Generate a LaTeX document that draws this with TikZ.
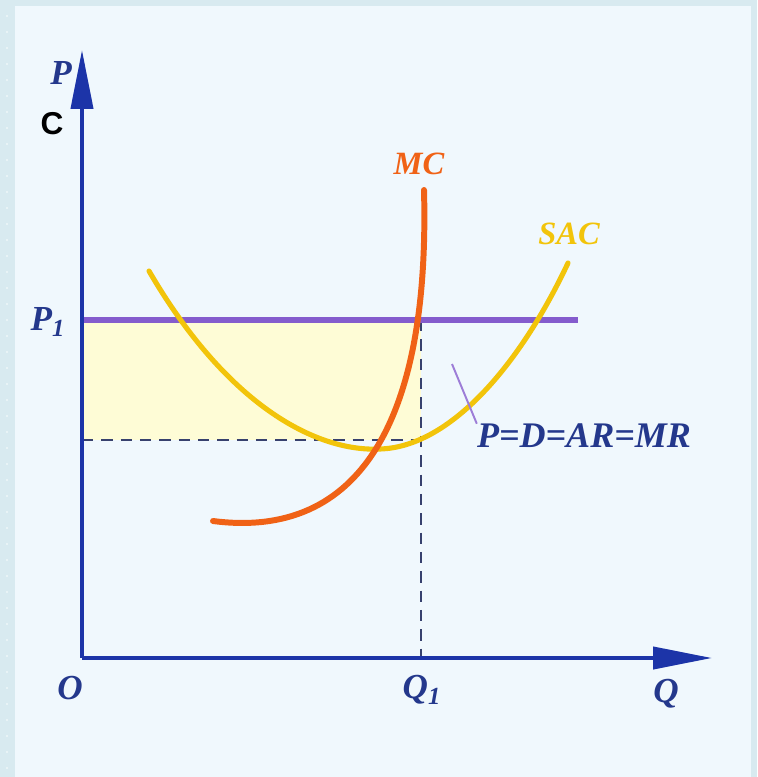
\documentclass[tikz,border=0pt]{standalone}
\usepackage{fontspec}
\setmainfont{Liberation Serif}
\newfontfamily\letterfont{Liberation Sans}
\usetikzlibrary{arrows.meta,positioning,calc}
\definecolor{axisblue}{RGB}{28,52,168}
\definecolor{labelblue}{RGB}{36,56,140}
\definecolor{mcorange}{RGB}{240,98,22}
\definecolor{sacyellow}{RGB}{242,196,10}
\definecolor{pricepurple}{RGB}{132,92,205}
\definecolor{dashgray}{RGB}{55,65,110}
\definecolor{bgpanel}{RGB}{240,248,253}
\definecolor{bgframe}{RGB}{216,234,240}
\definecolor{profitfill}{RGB}{254,252,214}
\tikzset{
  axisline/.style={axisblue,line width=2.3pt,-{Triangle[length=1.18cm,width=0.44cm]}},
  guideline/.style={dashgray,line width=1.4pt,dash pattern=on 6.5pt off 4.5pt},
  curvelabel/.style={font=\fontsize{18.5}{20}\selectfont\bfseries\itshape,inner sep=0pt},
  axislabel/.style={text=labelblue,font=\fontsize{20}{22}\selectfont\bfseries\itshape,inner sep=0pt}
}
\begin{document}
\begin{tikzpicture}[x=0.02cm,y=-0.02cm]
\useasboundingbox (0,0) rectangle (757,777);
% panel background
\fill[bgframe] (0,0) rectangle (757,777);
\fill[bgpanel] (15,6) rectangle (751,777);
\foreach \k in {1,...,48} \fill[white!60!bgframe] (7,16*\k) circle (1.2);
% key points
\coordinate (O) at (82,658);
\coordinate (Ptop) at (82,50);
\coordinate (Qend) at (712,658);
\coordinate (P1) at (82,320);
\coordinate (Pend) at (578,320);
\coordinate (E) at (421,320);
\coordinate (Q1) at (421,658);
\coordinate (Cmin) at (82,440);
\coordinate (Cq) at (421,440);
% profit area
\fill[profitfill] (P1) rectangle (Cq);
\draw[guideline] (Cmin) -- (Cq);
\draw[guideline] (E) -- (Q1);
% price line
\draw[pricepurple,line width=3.2pt] (P1) -- (Pend);
% cost curves
\coordinate (sacL) at (149,271);
\coordinate (sacM) at (380,449);
\coordinate (sacR) at (568,263);
\draw[sacyellow,line width=2.9pt,line cap=round] (sacL) .. controls (230,410) and (320,452) .. (sacM)
  .. controls (450,447) and (520,365) .. (sacR);
\coordinate (mcL) at (213,521);
\coordinate (mcT) at (424,190);
\draw[mcorange,line width=3.4pt,line cap=round] (mcL) .. controls (360,540) and (430,420) .. (mcT);
% axes
\draw[axisline] (O) -- (Ptop);
\draw[axisline] (O) -- (Qend);
% labels
\node[axislabel] (lP) at (61,73) {P};
\node[font=\fontsize{18}{20}\selectfont\letterfont\bfseries,inner sep=0pt] (lC) at (52,124) {C};
\node[axislabel] (lP1) at (48,322) {P\textsubscript{\itshape 1}};
\node[axislabel] (lO) at (70,688) {O};
\node[axislabel] (lQ1) at (422,690) {Q\textsubscript{\itshape 1}};
\node[axislabel] (lQ) at (666,694) {Q};
\node[curvelabel,text=mcorange] (lMC) at (419,164) {MC};
\node[curvelabel,text=sacyellow] (lSAC) at (569,234) {SAC};
\node[axislabel,font=\fontsize{20.5}{22}\selectfont\bfseries\itshape] (lMR) at (584,436) {P=D=AR=MR};
\coordinate (tipP) at (452,364);
\draw[pricepurple!80,line width=1.1pt] (tipP) -- (lMR.north west);
\end{tikzpicture}
\end{document}
